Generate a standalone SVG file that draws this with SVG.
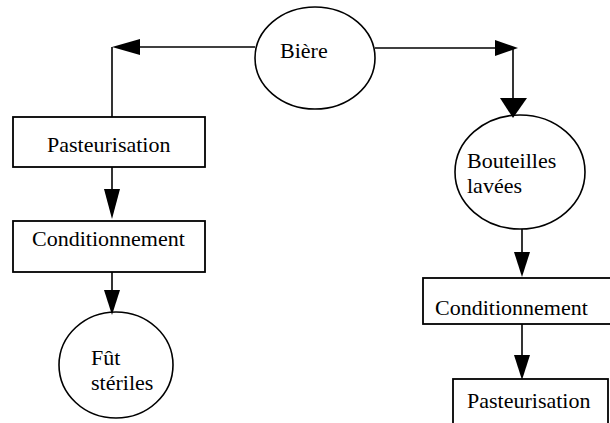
<svg xmlns="http://www.w3.org/2000/svg" width="610" height="423" viewBox="0 0 610 423">
<style>
.shape{fill:none;stroke:#000;stroke-width:1.6}
.box{fill:#fff;stroke:#000;stroke-width:1.8}
.line{fill:none;stroke:#000;stroke-width:1.6}
.head{fill:#000;stroke:none}
text{font-family:"Liberation Serif","Times New Roman",serif;font-size:22px;fill:#000}
</style>
<rect width="610" height="423" fill="#fff"/>
<g id="connectors">
<line class="line" x1="255" y1="47" x2="120" y2="47"/>
<polygon class="head" points="112,47 140,39 140,55"/>
<line class="line" x1="112" y1="47" x2="112" y2="123"/>
<line class="line" x1="375" y1="48" x2="513" y2="48"/>
<polygon class="head" points="518,48 495,40 495,56"/>
<line class="line" x1="513" y1="48" x2="513" y2="102"/>
<polygon class="head" points="513,118 500,98 527,98"/>
<line class="line" x1="112" y1="167" x2="112" y2="192"/>
<polygon class="head" points="112,219 104,189 120,189"/>
<line class="line" x1="112" y1="272" x2="112" y2="293"/>
<polygon class="head" points="112,315 104,290 120,290"/>
<line class="line" x1="522" y1="229" x2="522" y2="255"/>
<polygon class="head" points="522,277 514,252 530,252"/>
<line class="line" x1="522" y1="324" x2="522" y2="358"/>
<polygon class="head" points="522,380 514,355 530,355"/>
</g>
<g id="biere">
<ellipse class="shape" cx="315" cy="58" rx="60" ry="51"/>
<text x="280" y="58">Bière</text>
</g>
<g id="pasteurisation-left">
<rect class="box" x="13" y="117" width="192" height="50"/>
<text x="47" y="152">Pasteurisation</text>
</g>
<g id="conditionnement-left">
<rect class="box" x="13" y="221" width="192" height="51"/>
<text x="32" y="246">Conditionnement</text>
</g>
<g id="fut">
<ellipse class="shape" cx="116" cy="365" rx="57" ry="53"/>
<text x="91" y="365">Fût</text>
<text x="91" y="390">stériles</text>
</g>
<g id="bouteilles">
<ellipse class="shape" cx="520" cy="172" rx="65" ry="57"/>
<text x="467" y="168">Bouteilles</text>
<text x="467" y="193">lavées</text>
</g>
<g id="conditionnement-right">
<rect class="box" x="423" y="278" width="190" height="46"/>
<text x="435" y="315">Conditionnement</text>
</g>
<g id="pasteurisation-right">
<rect class="box" x="453" y="379" width="155" height="60"/>
<text x="467" y="408">Pasteurisation</text>
</g>
</svg>
